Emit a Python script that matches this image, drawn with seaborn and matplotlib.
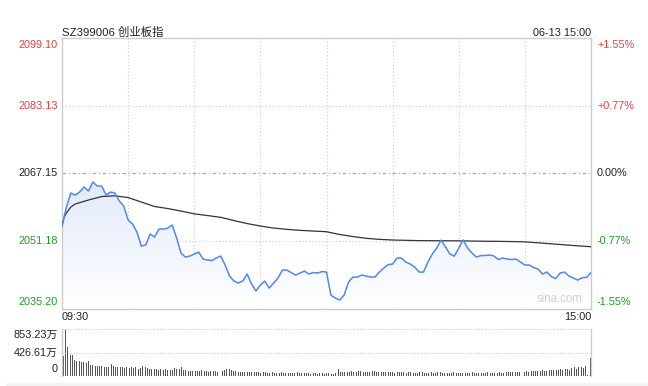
import numpy as np
import pandas as pd
import matplotlib
matplotlib.use("Agg")
import matplotlib.pyplot as plt
from matplotlib.colors import LinearSegmentedColormap
import seaborn as sns

# ---------------- data ----------------
title = "SZ399006 创业板指"
stamp = "06-13 15:00"
left_ticks = ["2099.10", "2083.13", "2067.15", "2051.18", "2035.20"]
right_ticks = ["+1.55%", "+0.77%", "0.00%", "-0.77%", "-1.55%"]
tick_values = [2099.10, 2083.13, 2067.15, 2051.18, 2035.20]
prev_close = 2067.15
time_labels = ["09:30", "15:00"]
vol_labels = ["853.23万", "426.61万", "0"]
vol_max = 853.23

# price every 2 minutes (minute 0 .. 240)
price_minutes = list(range(0, 241, 2))
price = [
    2054.71, 2059.20, 2062.50, 2062.03, 2062.74, 2063.92, 2062.98, 2065.10, 2064.16, 2064.16,
    2062.03, 2062.74, 2062.50, 2060.62, 2059.44, 2056.13, 2055.19, 2053.30, 2049.99, 2050.23,
    2052.82, 2052.12, 2054.00, 2054.00, 2054.24, 2054.95, 2051.88, 2048.34, 2047.39, 2047.63,
    2048.10, 2048.57, 2046.92, 2046.69, 2046.57, 2047.16, 2047.63, 2045.51, 2042.91, 2041.73,
    2041.26, 2041.73, 2043.38, 2041.02, 2039.37, 2040.78, 2041.73, 2040.07, 2041.26, 2042.44,
    2044.32, 2044.32, 2043.73, 2043.14, 2043.62, 2044.09, 2043.38, 2043.73, 2043.62, 2043.97,
    2043.85, 2038.42, 2037.71, 2037.24, 2038.42, 2041.49, 2042.67, 2042.67, 2043.14, 2042.91,
    2042.67, 2042.67, 2043.85, 2044.80, 2045.62, 2045.74, 2047.16, 2047.16, 2046.21, 2045.74,
    2045.03, 2043.85, 2043.85, 2046.21, 2048.10, 2049.52, 2051.41, 2049.76, 2048.10, 2047.63,
    2049.52, 2051.41, 2049.52, 2048.34, 2047.39, 2047.75, 2047.75, 2047.87, 2047.63, 2046.80,
    2047.16, 2046.92, 2046.80, 2046.92, 2046.21, 2045.51, 2045.51, 2044.92, 2044.56, 2043.38,
    2043.85, 2042.79, 2042.32, 2043.62, 2043.85, 2042.91, 2042.44, 2041.96, 2042.51, 2042.60,
    2043.73,
]

# average price line
avg_minutes = [0, 1, 2, 4] + list(range(6, 241, 6))
avg_price = [
    2054.71, 2056.84, 2057.78, 2059.20,
    2059.91, 2060.85, 2061.68, 2061.84, 2061.44, 2060.38, 2059.32, 2058.84, 2058.25, 2057.59,
    2057.19, 2056.77, 2056.01, 2055.30, 2054.71, 2054.24, 2053.93, 2053.70, 2053.53, 2053.37,
    2052.71, 2052.23, 2051.81, 2051.57, 2051.41, 2051.34, 2051.27, 2051.24, 2051.24, 2051.22,
    2051.17, 2051.12, 2051.10, 2051.05, 2050.98, 2050.75, 2050.51, 2050.28, 2050.04, 2049.83,
]

# volume (万), one bar per minute
vol_morning = [
    363, 853, 520, 390, 380, 290, 285, 270, 260, 250, 240, 275, 200, 195, 190, 185, 180, 185, 175, 170,
    165, 220, 190, 170, 165, 160, 170, 150, 160, 155, 165, 150, 175, 140, 150, 185, 160, 145, 140, 135,
    130, 125, 120, 130, 120, 125, 110, 115, 120, 150, 130, 140, 160, 120, 110, 100, 95, 100, 90, 95,
    100, 110, 95, 90, 85, 95, 100, 90, 85, 90, 95, 120, 125, 140, 110, 95, 90, 80, 85, 75,
    80, 85, 75, 70, 80, 75, 70, 65, 75, 70, 65, 60, 70, 65, 60, 65, 70, 60, 55, 60,
    65, 55, 60, 70, 60, 55, 60, 65, 55, 50, 60, 55, 50, 55, 60, 50, 55, 60, 50, 45,
    55,
]
vol_afternoon = [
    130, 85, 80, 85, 75, 80, 90, 85, 80, 95, 100, 85, 80, 75, 80, 90, 95, 80, 75, 70,
    75, 80, 85, 75, 70, 65, 70, 75, 80, 70, 65, 70, 75, 65, 60, 65, 70, 75, 65, 60,
    65, 70, 60, 65, 70, 75, 65, 60, 55, 60, 65, 70, 60, 55, 60, 65, 60, 55, 60, 70,
    65, 60, 55, 60, 65, 60, 70, 65, 60, 55, 65, 70, 60, 65, 75, 80, 70, 75, 80, 85,
    80, 75, 85, 90, 80, 95, 100, 90, 95, 100, 105, 95, 100, 110, 115, 105, 110, 120, 125, 115,
    130, 140, 120, 150, 160, 140, 165, 175, 150, 180, 20, 327,
]
volume = vol_morning + vol_afternoon

# ---------------- styling ----------------
sns.set_theme(style="white")
plt.rcParams["font.family"] = ["Liberation Sans", "Noto Sans CJK SC", "DejaVu Sans"]

RED = "#f03c3c"
GREEN = "#1e9e1e"
DARK = "#222222"
GRID = "#cccccc"
BLUE = "#4f88ee"
FS = 7.8

W, H = 648, 386
fig = plt.figure(figsize=(W / 100, H / 100), dpi=100)

def fx(px):
    return px / W

def fy(py):
    return 1 - py / H

L, R = 62, 591
T, B = 38, 308.7
ax = fig.add_axes([fx(L), fy(B), fx(R) - fx(L), fy(T) - fy(B)])
vT, vB = 329, 376.3
vax = fig.add_axes([fx(L), fy(vB), fx(R) - fx(L), fy(vT) - fy(vB)])

ymin, ymax = tick_values[-1], tick_values[0]

# ---- main price panel ----
df = pd.DataFrame({"minute": price_minutes, "price": price})
dfa = pd.DataFrame({"minute": avg_minutes, "avg": avg_price})

# gradient fill under the price line
poly = ax.fill_between(df["minute"], df["price"], ymin, facecolor="none", edgecolor="none")
cmap = LinearSegmentedColormap.from_list("fillg", ["#ffffff", "#e2ebfb"])
grad = np.linspace(0, 1, 256).reshape(-1, 1)
top_fill = max(price)
img = ax.imshow(grad, cmap=cmap, aspect="auto", origin="lower",
                extent=[0, 240, ymin, top_fill], zorder=1)
img.set_clip_path(poly.get_paths()[0], transform=ax.transData)

sns.lineplot(data=df, x="minute", y="price", ax=ax, color=BLUE, lw=1.1, zorder=4)
sns.lineplot(data=dfa, x="minute", y="avg", ax=ax, color="#333333", lw=0.9, zorder=3)

ax.set_xlim(0, 240)
ax.set_ylim(ymin, ymax)
ax.set_xticks([])
ax.set_yticks([])
ax.set_xlabel("")
ax.set_ylabel("")
for s in ax.spines.values():
    s.set_color(GRID)
    s.set_linewidth(1.0)

for m in range(30, 240, 30):
    ax.axvline(m, color=GRID, lw=0.8, ls=(0, (1, 2)), zorder=0.5)
for v in (tick_values[1], tick_values[3]):
    ax.axhline(v, color=GRID, lw=0.8, ls=(0, (1, 2)), zorder=0.5)
ax.axhline(prev_close, color="#aaaaaa", lw=0.9, ls=(0, (3, 2, 1, 2)), zorder=0.5)

ax.text(0.985, 0.015, "sina.com", transform=ax.transAxes, ha="right", va="bottom",
        color="#d0d0d0", fontsize=8.3)

# tick labels
colors = [RED, RED, DARK, GREEN, GREEN]
vas = ["top", "center", "center", "center", "bottom"]
offs = [-1.5, 0, 0, 0, 1.5]
for val, lt, rt, c, va, off in zip(tick_values, left_ticks, right_ticks, colors, vas, offs):
    ax.annotate(lt, xy=(0, val), xycoords=("axes fraction", "data"),
                xytext=(-4, off), textcoords="offset pixels",
                ha="right", va=va, color=c, fontsize=FS)
    ax.annotate(rt, xy=(1, val), xycoords=("axes fraction", "data"),
                xytext=(6, off), textcoords="offset pixels",
                ha="left", va=va, color=c, fontsize=FS)

fig.text(fx(L), fy(36), title, ha="left", va="baseline", color=DARK, fontsize=8.2)
fig.text(fx(R), fy(36), stamp, ha="right", va="baseline", color=DARK, fontsize=FS)
fig.text(fx(L), fy(317.5), time_labels[0], ha="left", va="center", color=DARK, fontsize=FS)
fig.text(fx(R), fy(317.5), time_labels[1], ha="right", va="center", color=DARK, fontsize=FS)

# ---- volume panel ----
n = len(volume)
vmin_pos = np.linspace(0.6, 239.6, n)
vax.bar(vmin_pos, volume, width=0.45, color="#555555", linewidth=0)
vax.set_xlim(0, 240)
vax.set_ylim(0, vol_max)
vax.set_xticks([])
vax.set_yticks([])
for side in ("left", "right"):
    vax.spines[side].set_color(GRID)
    vax.spines[side].set_linewidth(1.0)
vax.spines["top"].set_visible(False)
vax.spines["bottom"].set_visible(False)
vax.axhline(vol_max, color=GRID, lw=0.8, ls=(0, (1, 1.5)))
vax.axhline(vol_max / 2, color=GRID, lw=0.8, ls=(0, (1, 1.5)))

for val, lab, va, off in zip([vol_max, vol_max / 2, 0], vol_labels, ["top", "center", "bottom"], [-1, 0, 2]):
    vax.annotate(lab, xy=(0, val), xycoords=("axes fraction", "data"),
                 xytext=(-4, off), textcoords="offset pixels",
                 ha="right", va=va, color=DARK, fontsize=FS)

# bottom light band
fig.patches.append(plt.Rectangle((fx(6), 0), 1 - fx(6), fy(383), transform=fig.transFigure,
                                 facecolor="#f2f2f2", edgecolor="none"))

fig.savefig("out.png", dpi=100)
